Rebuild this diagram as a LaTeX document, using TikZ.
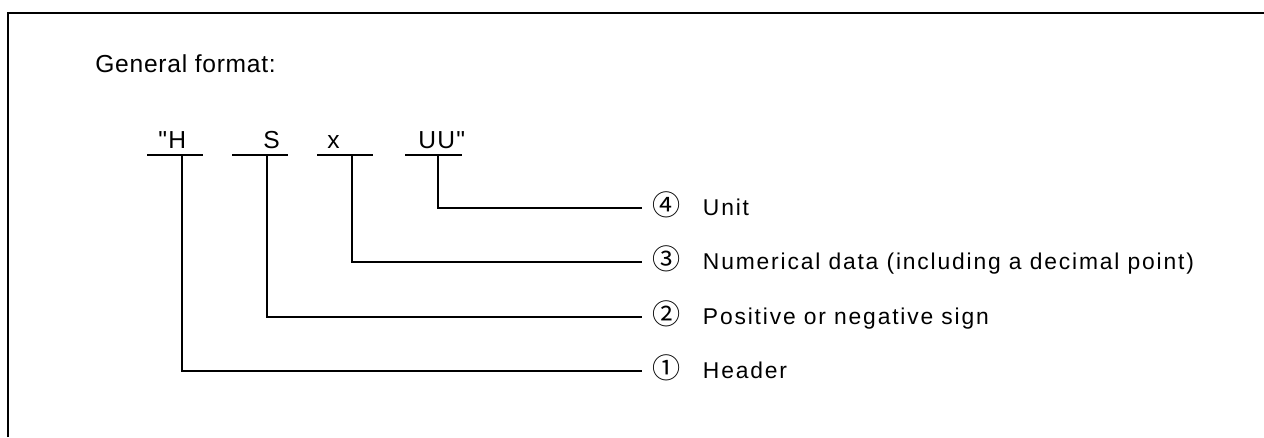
\documentclass[tikz,border=0pt]{standalone}
\usepackage{fontspec}
\setmainfont{Liberation Sans}
\newfontfamily\headfont[LetterSpace=3]{Liberation Sans}
\newfontfamily\fieldfont[LetterSpace=5,Ligatures=TeXOff]{Liberation Sans}
\newfontfamily\itemfont[LetterSpace=8,Ligatures=TeXOff]{Liberation Sans}
\newfontfamily\circfont{Noto Sans CJK JP}
\newcommand\circnum[1]{{\fontsize{16}{16}\circfont #1}\hspace{0.45cm}}

\begin{document}
\begin{tikzpicture}[x=0.02cm,y=-0.02cm,
  rule/.style={line width=1.1pt},
  frame/.style={line width=1.5pt},
  field/.style={font=\fontsize{14}{16}\fieldfont,inner sep=0pt,anchor=base west},
  item/.style={font=\fontsize{13}{15}\itemfont,anchor=west,inner xsep=0.2cm,
    inner ysep=0pt,text height=0.3cm,text depth=0pt}]
\useasboundingbox (0,0) rectangle (1264,437);
\draw[frame] (8,437) -- (8,13) -- (1264,13);
\node[font=\fontsize{14}{17}\headfont,inner sep=0pt,anchor=base west] (title) at (95,72) {General format:};
\node[field] (hq) at (158,148) {"H};
\node[field] (sg) at (263,148) {S};
\node[field] (nm) at (327,148) {x};
\node[field] (un) at (418,148) {UU"};
\draw[rule] (147,155) -- (203,155);
\draw[rule] (232,155) -- (288,155);
\draw[rule] (317,155) -- (373,155);
\draw[rule] (405,155) -- (462,155);
\coordinate (hqt) at (182,155);
\coordinate (sgt) at (267,155);
\coordinate (nmt) at (352,155);
\coordinate (unt) at (438,155);
\node[item] (lab4) at (642,208) {\circnum{④}Unit};
\node[item] (lab3) at (642,262) {\circnum{③}Numerical data (including a decimal point)};
\node[item] (lab2) at (642,317) {\circnum{②}Positive or negative sign};
\node[item] (lab1) at (642,371) {\circnum{①}Header};
\draw[rule] (unt) |- (lab4.west);
\draw[rule] (nmt) |- (lab3.west);
\draw[rule] (sgt) |- (lab2.west);
\draw[rule] (hqt) |- (lab1.west);
\end{tikzpicture}
\end{document}
